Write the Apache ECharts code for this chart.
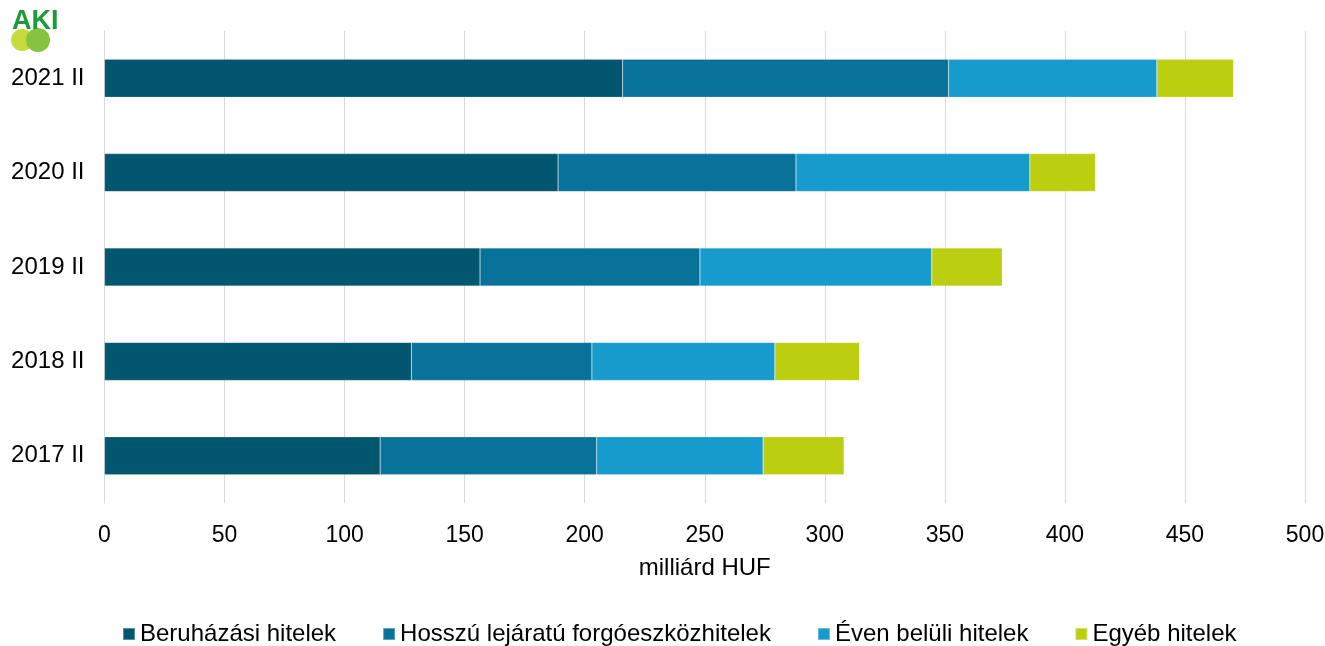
<!DOCTYPE html>
<html>
<head>
<meta charset="utf-8">
<script src="https://cdn.jsdelivr.net/npm/echarts@6/dist/echarts.min.js"></script>
<style>
  html, body { margin: 0; padding: 0; background: #fff; }
  #chart { width: 1325px; height: 646px; }
</style>
</head>
<body>
<div id="chart"></div>
<script>
// kategóriák alulról felfelé (ECharts category axis)
var categories = ['2017 II', '2018 II', '2019 II', '2020 II', '2021 II'];
var seriesNames = ['Beruházási hitelek', 'Hosszú lejáratú forgóeszközhitelek', 'Éven belüli hitelek', 'Egyéb hitelek'];
var beruhazasi = [114.8, 127.8, 156.4, 188.9, 215.8];
var hosszu = [90.2, 75.2, 91.6, 99.1, 135.7];
var evenBeluli = [69.3, 76.2, 96.5, 97.4, 86.8];
var egyeb = [33.7, 35.2, 29.4, 27.3, 31.9];
var xTicks = [0, 50, 100, 150, 200, 250, 300, 350, 400, 450, 500];

var colors = ['#02566f', '#08729a', '#169bcc', '#bbcf10'];
var font = 'Liberation Sans, Arial, sans-serif';

var chart = echarts.init(document.getElementById('chart'));

function bar(name, data) {
  return {
    name: name,
    type: 'bar',
    stack: 'total',
    barWidth: 38,
    data: data,
    itemStyle: { borderColor: 'rgba(255,255,255,0.35)', borderWidth: 0.5 }
  };
}

chart.setOption({
  animation: false,
  color: colors,
  textStyle: { fontFamily: font, color: '#000' },
  grid: { left: 104.5, right: 20, top: 31, bottom: 143, outerBoundsMode: 'none' },
  legend: {
    left: 122,
    top: 622,
    padding: 0,
    itemWidth: 12,
    itemHeight: 12,
    itemGap: 46,
    icon: 'rect',
    textStyle: { fontSize: 24, color: '#000', fontFamily: font },
    data: seriesNames
  },
  xAxis: {
    type: 'value',
    min: xTicks[0],
    max: xTicks[xTicks.length - 1],
    interval: 50,
    name: 'milliárd HUF',
    nameLocation: 'middle',
    nameGap: 53,
    nameTextStyle: { fontSize: 24, color: '#000' },
    axisLine: { show: false },
    axisTick: { show: false },
    axisLabel: { fontSize: 23, color: '#000', margin: 21 },
    splitLine: { lineStyle: { color: '#d9d9d9', width: 1 } }
  },
  yAxis: {
    type: 'category',
    data: categories,
    axisLine: { show: true, lineStyle: { color: '#d9d9d9' } },
    axisTick: { show: false },
    axisLabel: { fontSize: 24, color: '#000', margin: 20 }
  },
  graphic: [
    {
      type: 'circle', shape: { cx: 22, cy: 40, r: 11, startAngle: Math.PI, endAngle: 2 * Math.PI },
      style: { fill: '#c5dc3c' }
    },
    {
      type: 'circle', shape: { cx: 38, cy: 40, r: 12, startAngle: Math.PI, endAngle: 2 * Math.PI },
      style: { fill: '#86c340' }
    },
    {
      type: 'text', left: 12, top: 8,
      style: { text: 'AKI', font: 'bold 27px ' + font, fill: '#1e9a3a' }
    }
  ],
  series: [
    bar(seriesNames[0], beruhazasi),
    bar(seriesNames[1], hosszu),
    bar(seriesNames[2], evenBeluli),
    bar(seriesNames[3], egyeb)
  ]
});
</script>
</body>
</html>
